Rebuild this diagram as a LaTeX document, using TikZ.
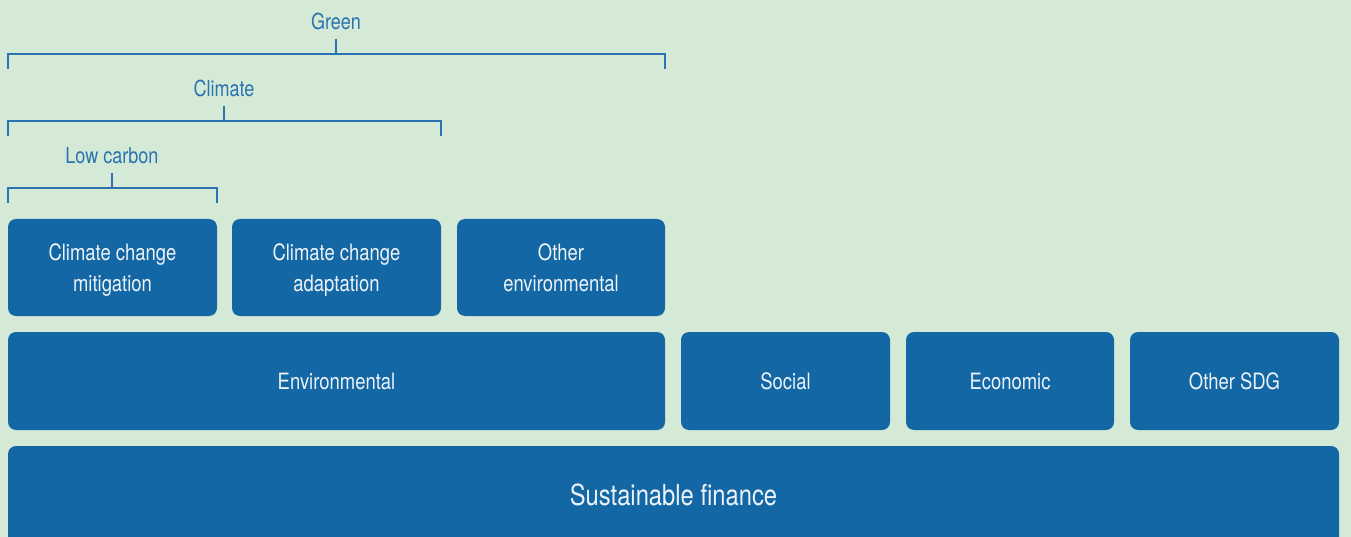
\documentclass[tikz,border=0pt]{standalone}
\usepackage{fontspec}
\setmainfont[FakeStretch=0.82]{TeX Gyre Heros}
\usetikzlibrary{positioning}
\definecolor{bggreen}{HTML}{D4EAD6}
\definecolor{boxblue}{HTML}{1467A5}
\definecolor{lineblue}{HTML}{2B72B0}

\begin{document}
\begin{tikzpicture}[x=1pt,y=-1pt,
	box/.style={fill=boxblue, rounded corners=8pt, text=white!92!boxblue, align=center, inner sep=0pt, font=\fontsize{22.5}{31}\selectfont},
	twoline/.style={text depth=-2pt},
	grouplabel/.style={text=lineblue, inner sep=0pt, anchor=base, font=\fontsize{22}{26}\selectfont},
	bracket/.style={draw=lineblue, line width=1.3pt}]
		\clip (0,0) rectangle (1351,537);
		\fill[bggreen] (0,0) rectangle (1351,537);
		
		% top row
		\node[box, twoline, minimum width=209pt, minimum height=97pt] (mitigation) at (112.5,267.5) {Climate change\\mitigation};
		\node[box, twoline, minimum width=209pt, minimum height=97pt] (adaptation) at (336.5,267.5) {Climate change\\adaptation};
		\node[box, twoline, minimum width=208pt, minimum height=97pt] (otherenv) at (561,267.5) {Other\\environmental};
		
		% middle row
		\node[box, minimum width=657pt, minimum height=98pt] (environmental) at (336.5,381) {Environmental};
		\node[box, minimum width=209pt, minimum height=98pt] (social) at (785.5,381) {Social};
		\node[box, minimum width=208pt, minimum height=98pt] (economic) at (1010,381) {Economic};
		\node[box, minimum width=209pt, minimum height=98pt] (othersdg) at (1234.5,381) {Other SDG};
		
		% bottom row
		\node[box, minimum width=1331pt, minimum height=140pt] (sustainable) at (673.5,516) {};
		\node[box, fill=none, font=\fontsize{29}{34}\selectfont] (sflabel) at (673.5,495) {Sustainable finance};
		
		% brackets
		\node[grouplabel] (green) at (336,29.3) {Green};
		\node[grouplabel] (climate) at (224,96.7) {Climate};
		\node[grouplabel] (lowcarbon) at (112,163.3) {Low carbon};
		
		\coordinate (greenL) at (8,69);
		\coordinate (greenR) at (665,69);
		\coordinate (climateL) at (8,136);
		\coordinate (climateR) at (441,136);
		\coordinate (lowcarbonL) at (8,203);
		\coordinate (lowcarbonR) at (217,203);
		
		\draw[bracket] (greenL) -- ++(0,-15) -| (greenR);
		\draw[bracket] ([yshift=-8.7pt]green.south) -- (green.south |- 0,54);
		
		\draw[bracket] (climateL) -- ++(0,-15) -| (climateR);
		\draw[bracket] ([yshift=-8.3pt]climate.south) -- (climate.south |- 0,121);
		
		\draw[bracket] (lowcarbonL) -- ++(0,-15) -| (lowcarbonR);
		\draw[bracket] ([yshift=-8.7pt]lowcarbon.south) -- (lowcarbon.south |- 0,188);
	\end{tikzpicture}
\end{document}
